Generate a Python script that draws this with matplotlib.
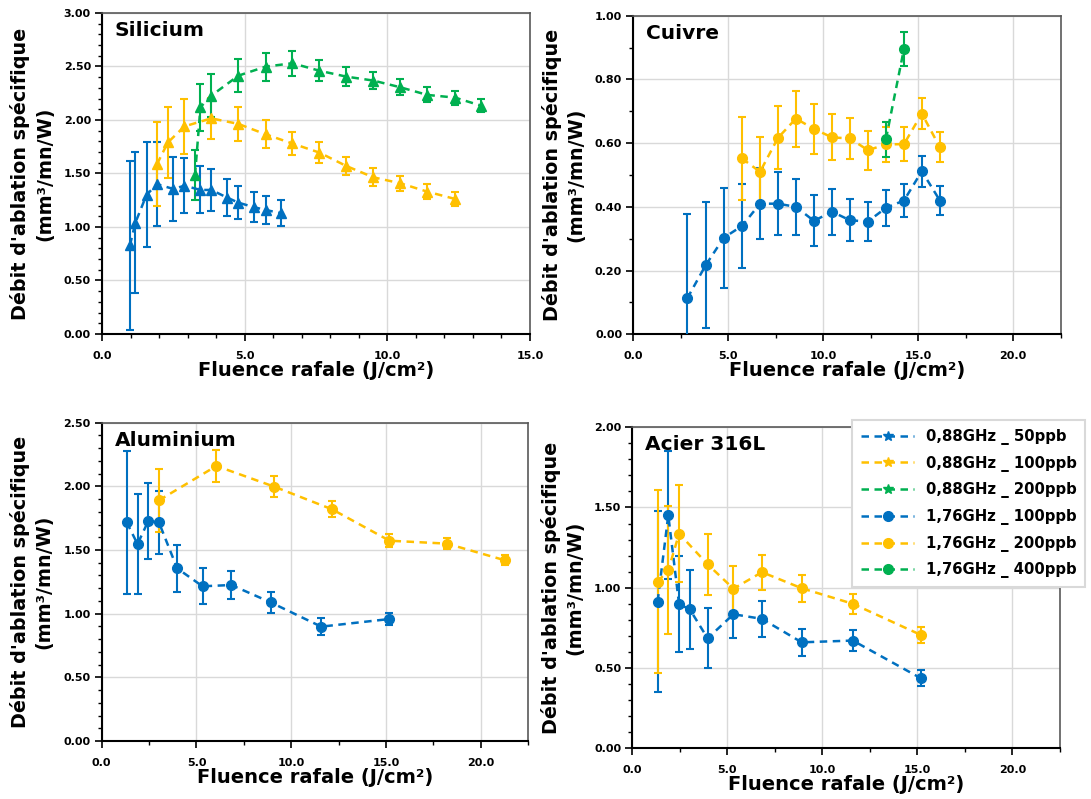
import matplotlib
matplotlib.use("Agg")
import matplotlib.pyplot as plt
from matplotlib.lines import Line2D
from matplotlib.ticker import MultipleLocator, FormatStrFormatter

plt.rcParams['font.family'] = ['DejaVu Sans']
plt.rcParams['font.weight'] = 'bold'

BLUE = '#0070C0'
YELLOW = '#FFC000'
GREEN = '#00B050'

# ---- Silicium (0.88 GHz, triangles)
si_50_x = [0.98, 1.17, 1.56, 1.93, 2.50, 2.89, 3.45, 3.83, 4.39, 4.78, 5.34, 5.73, 6.29]
si_50_y = [0.83, 1.04, 1.30, 1.40, 1.355, 1.386, 1.346, 1.346, 1.274, 1.227, 1.184, 1.159, 1.128]
si_50_e = [0.79, 0.66, 0.49, 0.39, 0.30, 0.26, 0.22, 0.20, 0.17, 0.156, 0.14, 0.13, 0.12]

si_100_x = [1.93, 2.31, 2.89, 3.83, 4.78, 5.73, 6.67, 7.62, 8.56, 9.51, 10.46, 11.40, 12.37]
si_100_y = [1.589, 1.79, 1.94, 2.015, 1.963, 1.866, 1.78, 1.695, 1.57, 1.464, 1.408, 1.33, 1.262]
si_100_e = [0.39, 0.33, 0.26, 0.19, 0.156, 0.13, 0.11, 0.10, 0.087, 0.083, 0.072, 0.069, 0.062]

si_200_x = [3.26, 3.45, 3.83, 4.78, 5.73, 6.67, 7.62, 8.56, 9.51, 10.46, 11.40, 12.37, 13.28]
si_200_y = [1.486, 2.12, 2.227, 2.414, 2.498, 2.53, 2.46, 2.405, 2.368, 2.305, 2.234, 2.209, 2.134]
si_200_e = [0.23, 0.22, 0.20, 0.157, 0.13, 0.115, 0.10, 0.09, 0.083, 0.075, 0.07, 0.065, 0.06]

# ---- Cuivre (1.76 GHz, circles)
cu_100_x = [2.84, 3.81, 4.76, 5.72, 6.67, 7.62, 8.56, 9.51, 10.46, 11.40, 12.35, 13.30, 14.25, 15.19, 16.14]
cu_100_y = [0.113, 0.217, 0.303, 0.34, 0.41, 0.41, 0.40, 0.356, 0.385, 0.358, 0.354, 0.397, 0.42, 0.512, 0.42]
cu_100_e = [0.264, 0.197, 0.157, 0.132, 0.111, 0.099, 0.087, 0.08, 0.072, 0.066, 0.061, 0.056, 0.053, 0.049, 0.047]

cu_200_x = [5.72, 6.67, 7.62, 8.56, 9.51, 10.46, 11.40, 12.35, 13.30, 14.25, 15.19, 16.14]
cu_200_y = [0.552, 0.51, 0.617, 0.677, 0.645, 0.618, 0.615, 0.578, 0.596, 0.597, 0.693, 0.587]
cu_200_e = [0.131, 0.11, 0.099, 0.088, 0.079, 0.072, 0.065, 0.061, 0.056, 0.053, 0.049, 0.047]

cu_400_x = [13.30, 14.25]
cu_400_y = [0.613, 0.896]
cu_400_e = [0.055, 0.053]

# ---- Aluminium (1.76 GHz, circles)
al_100_x = [1.32, 1.89, 2.46, 3.02, 3.98, 5.32, 6.84, 8.91, 11.58, 15.18]
al_100_y = [1.717, 1.547, 1.728, 1.717, 1.356, 1.215, 1.225, 1.089, 0.898, 0.958]
al_100_e = [0.56, 0.39, 0.30, 0.25, 0.187, 0.14, 0.11, 0.084, 0.065, 0.05]

al_200_x = [3.02, 6.05, 9.11, 12.16, 15.18, 18.21, 21.25]
al_200_y = [1.89, 2.16, 1.997, 1.819, 1.573, 1.55, 1.42]
al_200_e = [0.247, 0.123, 0.084, 0.063, 0.05, 0.043, 0.037]

# ---- Acier 316L (1.76 GHz, circles)
ac_100_x = [1.33, 1.89, 2.46, 3.02, 3.96, 5.32, 6.82, 8.91, 11.60, 15.18]
ac_100_y = [0.914, 1.452, 0.897, 0.866, 0.685, 0.835, 0.806, 0.66, 0.671, 0.436]
ac_100_e = [0.566, 0.40, 0.30, 0.247, 0.188, 0.146, 0.11, 0.084, 0.064, 0.05]

ac_200_x = [1.33, 1.89, 2.46, 3.96, 5.32, 6.82, 8.91, 11.60, 15.18]
ac_200_y = [1.038, 1.109, 1.337, 1.146, 0.994, 1.097, 0.997, 0.90, 0.706]
ac_200_e = [0.57, 0.40, 0.30, 0.19, 0.143, 0.11, 0.085, 0.064, 0.05]

legend_labels = ['0,88GHz _ 50ppb', '0,88GHz _ 100ppb', '0,88GHz _ 200ppb',
                 '1,76GHz _ 100ppb', '1,76GHz _ 200ppb', '1,76GHz _ 400ppb']

fig = plt.figure(figsize=(10.91, 7.99), dpi=100)

axes_pos = [
    [0.0935, 0.582, 0.3923, 0.4018],
    [0.5805, 0.5816, 0.3917, 0.3987],
    [0.0932, 0.0726, 0.3910, 0.3984],
    [0.5796, 0.0635, 0.3920, 0.4018],
]


def series(ax, x, y, e, color, marker):
    ax.errorbar(x, y, yerr=e, color=color, marker=marker, markersize=7,
                linestyle=(0, (3, 2.2)), linewidth=1.8, elinewidth=1.5,
                capsize=2.8, capthick=1.5, zorder=3)


def style(ax, xmax, xminor, ymax, ymajor, title):
    ax.set_xlim(0, xmax)
    ax.set_ylim(0, ymax)
    ax.xaxis.set_major_locator(MultipleLocator(5))
    ax.xaxis.set_minor_locator(MultipleLocator(xminor))
    ax.yaxis.set_major_locator(MultipleLocator(ymajor))
    ax.yaxis.set_minor_locator(MultipleLocator(0.1))
    ax.xaxis.set_major_formatter(FormatStrFormatter('%.1f'))
    ax.yaxis.set_major_formatter(FormatStrFormatter('%.2f'))
    ax.grid(True, which='major', color='#D9D9D9', linewidth=1.0, zorder=0)
    ax.set_axisbelow(True)
    ax.tick_params(which='major', direction='out', length=5, width=1.2,
                   labelsize=8, pad=3)
    ax.tick_params(which='minor', direction='out', length=3, width=1.0)
    ax.tick_params(axis='x', which='both', pad=7)
    for lab in ax.get_xticklabels() + ax.get_yticklabels():
        lab.set_fontweight('bold')
    for s in ['left', 'bottom']:
        ax.spines[s].set_color('black')
        ax.spines[s].set_linewidth(1.5)
    for s in ['right', 'top']:
        ax.spines[s].set_color('#595959')
        ax.spines[s].set_linewidth(1.2)
    ax.set_xlabel('Fluence rafale (J/cm²)', fontsize=14, fontweight='bold', labelpad=0)
    ax.set_ylabel("Débit d'ablation spécifique\n(mm³/mn/W)", fontsize=13.8,
                  fontweight='bold', labelpad=7, linespacing=1.3)
    ax.text(0.03, 0.975, title, transform=ax.transAxes, fontsize=14.5,
            fontweight='bold', va='top', ha='left')


ax1 = fig.add_axes(axes_pos[0])
series(ax1, si_50_x, si_50_y, si_50_e, BLUE, '^')
series(ax1, si_100_x, si_100_y, si_100_e, YELLOW, '^')
series(ax1, si_200_x, si_200_y, si_200_e, GREEN, '^')
style(ax1, 15, 1, 3.0, 0.5, 'Silicium')

ax2 = fig.add_axes(axes_pos[1])
series(ax2, cu_100_x, cu_100_y, cu_100_e, BLUE, 'o')
series(ax2, cu_200_x, cu_200_y, cu_200_e, YELLOW, 'o')
series(ax2, cu_400_x, cu_400_y, cu_400_e, GREEN, 'o')
style(ax2, 22.5, 2.5, 1.0, 0.2, 'Cuivre')

ax3 = fig.add_axes(axes_pos[2])
series(ax3, al_100_x, al_100_y, al_100_e, BLUE, 'o')
series(ax3, al_200_x, al_200_y, al_200_e, YELLOW, 'o')
style(ax3, 22.5, 2.5, 2.5, 0.5, 'Aluminium')

ax4 = fig.add_axes(axes_pos[3])
series(ax4, ac_100_x, ac_100_y, ac_100_e, BLUE, 'o')
series(ax4, ac_200_x, ac_200_y, ac_200_e, YELLOW, 'o')
style(ax4, 22.5, 2.5, 2.0, 0.5, 'Acier 316L')

colors = [BLUE, YELLOW, GREEN, BLUE, YELLOW, GREEN]
markers = ['*', '*', '*', 'o', 'o', 'o']
handles = [Line2D([0], [0], color=c, marker=m, markersize=7,
                  linestyle=(0, (3, 2.2)), linewidth=1.8)
           for c, m in zip(colors, markers)]
leg = fig.legend(handles, legend_labels, loc='upper left',
                 bbox_to_anchor=(852 / 1091, 1 - 420 / 799),
                 prop={'weight': 'bold', 'size': 10.7}, frameon=True,
                 fancybox=False, edgecolor='#D9D9D9', framealpha=1,
                 handlelength=3.6, labelspacing=0.72, borderpad=0.6,
                 handletextpad=0.75, borderaxespad=0)
leg.get_frame().set_linewidth(1.5)

fig.savefig('out.png', dpi=100)
